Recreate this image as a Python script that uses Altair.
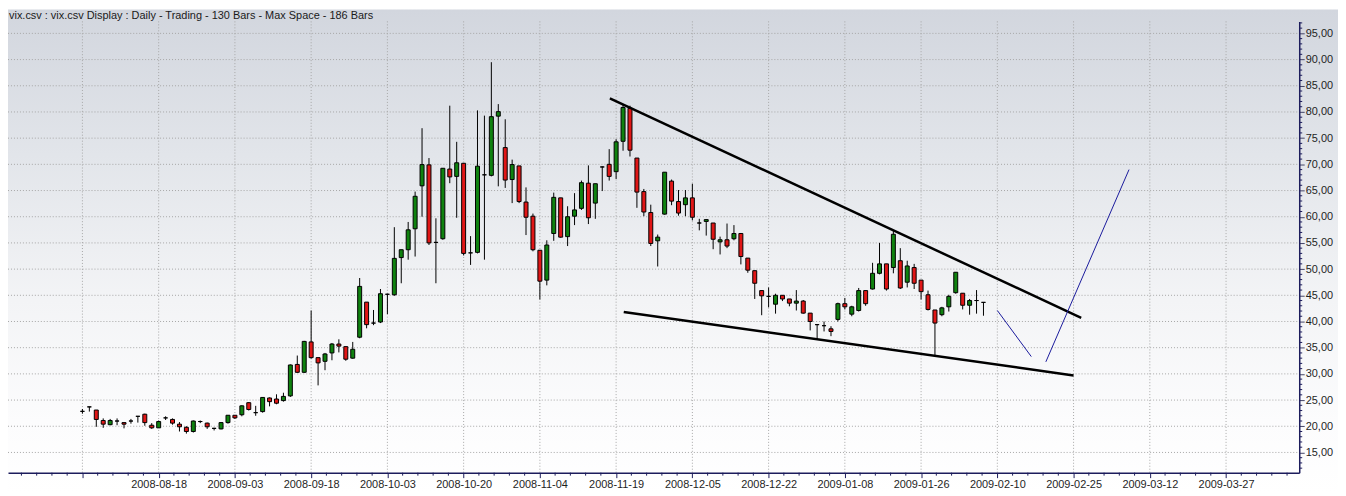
import json
import altair as alt
import pandas as pd
import numpy as np

# ---------------- data ----------------
opens = [22.85, 23.7, 23.1, 21.1, 20.3, 21.0, 20.7, 21.0, 21.9, 22.3,
         20.2, 19.7, 21.6, 21.3, 20.4, 19.8, 19.0, 20.9, 20.6, 19.6,
         19.5, 20.7, 22.1, 22.2, 24.5, 22.6, 22.8, 25.4, 25.2, 24.9,
         25.8, 31.8, 30.3, 36.1, 33.1, 32.4, 34.0, 35.7, 35.2, 33.0,
         37.0, 43.7, 39.7, 39.9, 45.2, 45.1, 52.2, 53.7, 57.7, 65.9,
         69.9, 55.1, 55.8, 69.1, 67.7, 70.2, 53.1, 53.2, 68.0, 67.9,
         79.2, 73.2, 67.1, 69.7, 62.8, 60.1, 53.6, 47.9, 56.8, 63.6,
         56.2, 60.1, 61.6, 66.4, 62.6, 69.5, 70.0, 68.6, 74.4, 80.7,
         71.2, 64.8, 60.8, 55.4, 60.5, 66.8, 62.9, 62.3, 63.6, 58.8,
         59.1, 58.8, 55.2, 55.6, 55.8, 56.8, 52.1, 49.7, 45.9, 44.8,
         43.3, 45.0, 44.3, 43.5, 43.9, 41.6, 39.4, 39.2, 38.6, 40.4,
         43.4, 41.4, 42.1, 45.9, 46.2, 49.2, 51.0, 50.3, 51.6, 47.5,
         50.3, 47.9, 45.1, 42.2, 41.3, 42.8, 45.5, 45.4, 43.1, 44.0,
         43.65]
highs = [23.3, 23.7, 23.1, 21.5, 21.4, 21.5, 20.7, 21.4, 21.9, 22.4,
         20.6, 21.1, 21.9, 21.5, 20.8, 20.0, 21.1, 21.1, 20.7, 19.7,
         20.8, 22.1, 22.1, 24.0, 24.6, 23.9, 25.5, 25.5, 26.1, 26.4,
         31.8, 33.5, 36.3, 42.1, 33.1, 34.0, 35.9, 36.6, 35.2, 36.1,
         48.3, 43.7, 42.2, 46.2, 45.3, 58.0, 53.7, 59.0, 64.8, 76.9,
         71.2, 59.7, 69.3, 81.2, 74.3, 70.2, 56.3, 80.3, 79.3, 89.5,
         81.5, 78.6, 70.9, 69.7, 65.6, 60.6, 53.6, 55.5, 64.6, 63.6,
         62.0, 64.5, 66.9, 69.8, 66.3, 69.6, 72.9, 74.8, 81.5, 81.2,
         71.2, 65.3, 62.3, 56.6, 68.5, 67.1, 65.1, 65.1, 66.3, 59.6,
         59.5, 58.8, 56.2, 58.7, 58.4, 56.8, 52.1, 49.7, 45.9, 46.5,
         45.3, 45.0, 44.3, 46.0, 44.1, 41.6, 39.4, 40.0, 39.1, 43.6,
         44.5, 43.0, 46.4, 45.9, 51.2, 55.0, 51.0, 57.3, 54.0, 51.6,
         51.0, 47.9, 45.9, 42.2, 42.8, 45.1, 49.4, 45.4, 44.3, 46.0,
         43.7]
lows = [22.4, 22.8, 19.9, 19.7, 20.2, 20.2, 19.6, 20.5, 20.7, 20.1,
        19.5, 19.7, 21.2, 20.3, 19.0, 18.6, 18.8, 20.6, 19.5, 19.2,
        19.4, 20.5, 21.4, 21.9, 23.0, 22.0, 22.6, 23.8, 24.2, 24.7,
        25.6, 30.2, 30.2, 32.9, 27.8, 30.7, 32.6, 34.1, 32.5, 32.9,
        36.8, 38.7, 39.3, 39.7, 41.4, 44.9, 47.3, 51.8, 52.4, 60.0,
        54.6, 47.3, 55.6, 66.4, 59.8, 52.6, 50.8, 53.0, 51.8, 67.7,
        65.8, 65.5, 62.6, 62.6, 56.5, 53.4, 44.2, 46.9, 55.4, 56.0,
        54.4, 58.4, 61.3, 58.6, 59.6, 64.9, 66.9, 67.2, 72.6, 71.5,
        61.7, 60.1, 54.4, 50.5, 60.4, 62.2, 60.2, 60.1, 59.3, 57.4,
        56.4, 53.8, 52.8, 54.0, 55.5, 50.9, 49.3, 44.3, 41.2, 42.7,
        41.5, 43.9, 42.9, 42.1, 41.5, 38.3, 36.6, 38.1, 37.2, 40.0,
        42.3, 41.0, 41.9, 43.0, 46.1, 49.0, 45.9, 49.2, 46.2, 46.5,
        46.2, 44.2, 42.1, 33.4, 41.0, 41.9, 45.3, 42.3, 41.3, 41.5,
        41.1]
closes = [22.85, 23.7, 21.3, 20.4, 21.1, 21.0, 20.4, 21.0, 21.9, 20.7,
          19.7, 20.9, 21.6, 20.6, 19.9, 19.0, 21.0, 20.9, 19.9, 19.6,
          20.7, 22.1, 21.6, 23.9, 23.2, 22.6, 25.5, 24.7, 24.4, 25.7,
          31.7, 30.3, 36.2, 33.1, 32.1, 33.8, 35.7, 35.3, 32.8, 34.7,
          46.7, 39.4, 39.7, 45.3, 45.2, 52.05, 53.7, 57.5, 63.9, 69.95,
          55.0, 55.1, 69.25, 67.6, 70.3, 53.0, 53.1, 69.65, 68.0, 79.1,
          80.06, 67.0, 69.96, 62.9, 59.9, 53.7, 47.7, 54.6, 63.7, 56.1,
          60.0, 61.3, 66.5, 59.8, 66.3, 69.5, 67.7, 74.3, 80.86, 72.7,
          64.7, 60.9, 54.9, 56.1, 68.5, 62.98, 60.7, 63.6, 59.9, 58.8,
          59.45, 55.7, 55.6, 54.4, 56.8, 52.4, 49.8, 47.3, 44.9, 44.8,
          45.0, 44.3, 43.5, 43.9, 41.6, 40.0, 39.4, 39.2, 38.1, 43.4,
          42.8, 42.8, 45.9, 43.4, 49.2, 51.0, 46.2, 56.65, 46.4, 50.6,
          47.3, 45.7, 42.3, 39.7, 42.6, 44.8, 49.4, 43.1, 44.0, 44.0,
          43.65]

tick_index = [0, 11, 22, 33, 44, 55, 66, 77, 88, 99, 110, 121, 132, 143, 154, 165]
tick_labels = ["", "2008-08-18", "2008-09-03", "2008-09-18", "2008-10-03",
               "2008-10-20", "2008-11-04", "2008-11-19", "2008-12-05",
               "2008-12-22", "2009-01-08", "2009-01-26", "2009-02-10",
               "2009-02-25", "2009-03-12", "2009-03-27"]
y_ticks = [15, 20, 25, 30, 35, 40, 45, 50, 55, 60, 65, 70, 75, 80, 85, 90, 95]

# trend lines (bar index, value)
upper_x = [76.1, 144.1]
upper_y = [82.6, 40.7]
lower_x = [78.1, 143.0]
lower_y = [41.8, 29.7]
blue1_x = [132.0, 136.9]
blue1_y = [42.1, 33.3]
blue2_x = [139.0, 151.0]
blue2_y = [32.3, 69.0]

TITLE = "vix.csv : vix.csv Display :  Daily  - Trading - 130 Bars -  Max Space - 186 Bars"

# ---------------- layout / style ----------------
W, H = 1299, 454
X_DOMAIN = [-10.02, 174.84]
Y_DOMAIN = [11.14, 97.29]
NAVY = "#1c1c5c"
FONT = "Liberation Sans"
GREEN = "#0f820f"
RED = "#e01616"
GRID = "#a6a6a6"

xs = alt.Scale(domain=X_DOMAIN, nice=False, zero=False)
ys = alt.Scale(domain=Y_DOMAIN, nice=False, zero=False)

label_expr = json.dumps(tick_labels) + "[round(datum.value / 11)]"
x_axis = alt.Axis(
    values=tick_index, labelExpr=label_expr, grid=False, domain=True,
    domainColor=NAVY, domainWidth=1.5, ticks=True, tickColor=NAVY, tickSize=5,
    labelFont=FONT, labelFontSize=11, labelColor="#1e1e1e", labelPadding=1,
    labelOverlap=False, labelFlush=False, labelBound=False, title=None, zindex=1)
y_axis = alt.Axis(
    orient="right", values=y_ticks,
    labelExpr="replace(format(datum.value, '.2f'), '.', ',')",
    grid=False, domain=True, domainColor=NAVY, domainWidth=1.5, ticks=True,
    tickColor="#444466", tickSize=5,
    labelFont=FONT, labelFontSize=11, labelColor="#1e1e1e", labelPadding=1,
    labelAlign="left", labelBaseline="middle", labelOverlap=False, labelFlush=False,
    title=None, zindex=1)


def X(field):
    return alt.X(field, scale=xs, axis=x_axis)


def Y(field):
    return alt.Y(field, scale=ys, axis=y_axis)


df = pd.DataFrame({"i": np.arange(len(opens)), "open": opens, "high": highs,
                   "low": lows, "close": closes})
df["dir"] = np.where(df["close"] > df["open"], "up",
                     np.where(df["close"] < df["open"], "down", "flat"))

one = pd.DataFrame({"a": [0]})

bg = alt.Chart(one).mark_rect(
    fill=alt.LinearGradient(
        gradient="linear",
        stops=[alt.GradientStop(color="#d2d6de", offset=0),
               alt.GradientStop(color="#e2e5ea", offset=0.3),
               alt.GradientStop(color="#f3f4f6", offset=0.6),
               alt.GradientStop(color="#fcfcfd", offset=0.85),
               alt.GradientStop(color="#ffffff", offset=1)],
        x1=0, x2=0, y1=0, y2=1)
).encode(x=alt.value(0), x2=alt.value(1338), y=alt.value(-12), y2=alt.value(476))

title = alt.Chart(one).mark_text(
    text=TITLE, align="left", baseline="middle", font=FONT, fontSize=11, color="#1a1a1a"
).encode(x=alt.value(1), y=alt.value(-5))

vgrid = alt.Chart(pd.DataFrame({"t": tick_index})).mark_rule(
    color=GRID, strokeDash=[1, 2], strokeWidth=1
).encode(x=X("t:Q"), y=alt.value(0), y2=alt.value(H))

hgrid = alt.Chart(pd.DataFrame({"v": y_ticks})).mark_rule(
    color=GRID, strokeDash=[1, 2], strokeWidth=1
).encode(y=Y("v:Q"), x=alt.value(0), x2=alt.value(W))

wicks = alt.Chart(df).mark_rule(color="#000000", strokeWidth=1).encode(
    x=X("i:Q"), y=Y("low:Q"), y2="high:Q")

bodies = alt.Chart(df).mark_bar(size=4, stroke="#000000", strokeWidth=1).encode(
    x=X("i:Q"), y=Y("open:Q"), y2="close:Q",
    fill=alt.Fill("dir:N", scale=alt.Scale(domain=["up", "down", "flat"],
                                            range=[GREEN, RED, "#000000"]), legend=None),
)

# minor ticks
major_step = tick_index[1] - tick_index[0]
minor_x = [t for t in np.arange(tick_index[0] - major_step, X_DOMAIN[1], major_step / 5)
           if X_DOMAIN[0] <= t <= X_DOMAIN[1] and abs(t / major_step - round(t / major_step)) > 1e-6]
minor_y = [v for v in range(int(np.ceil(Y_DOMAIN[0])), int(Y_DOMAIN[1]) + 1) if v % 5 != 0]

xminor = alt.Chart(pd.DataFrame({"t": minor_x})).mark_rule(color=NAVY, strokeWidth=1).encode(
    x=X("t:Q"), y=alt.value(H), y2=alt.value(H + 3))
yminor = alt.Chart(pd.DataFrame({"v": minor_y})).mark_rule(color=NAVY, strokeWidth=1).encode(
    y=Y("v:Q"), x=alt.value(W), x2=alt.value(W + 3))


def seg(xv, yv, color, width):
    return alt.Chart(pd.DataFrame({"x": xv, "y": yv})).mark_line(
        color=color, strokeWidth=width, strokeCap="butt"
    ).encode(x=X("x:Q"), y=Y("y:Q"))


lines = [seg(upper_x, upper_y, "#000000", 2.5),
         seg(lower_x, lower_y, "#000000", 2.5),
         seg(blue1_x, blue1_y, "#1a1a9c", 1),
         seg(blue2_x, blue2_y, "#1a1a9c", 1)]

chart = alt.layer(bg, title, vgrid, hgrid, wicks, bodies, *lines, xminor, yminor).properties(
    width=W, height=H,
    autosize=alt.AutoSizeParams(type="none"),
    padding={"left": 0, "top": 12, "right": 39, "bottom": 22},
    background="#ffffff",
).configure_view(stroke=None)

chart.save("out.html", embed_options={"renderer": "svg", "actions": False})
